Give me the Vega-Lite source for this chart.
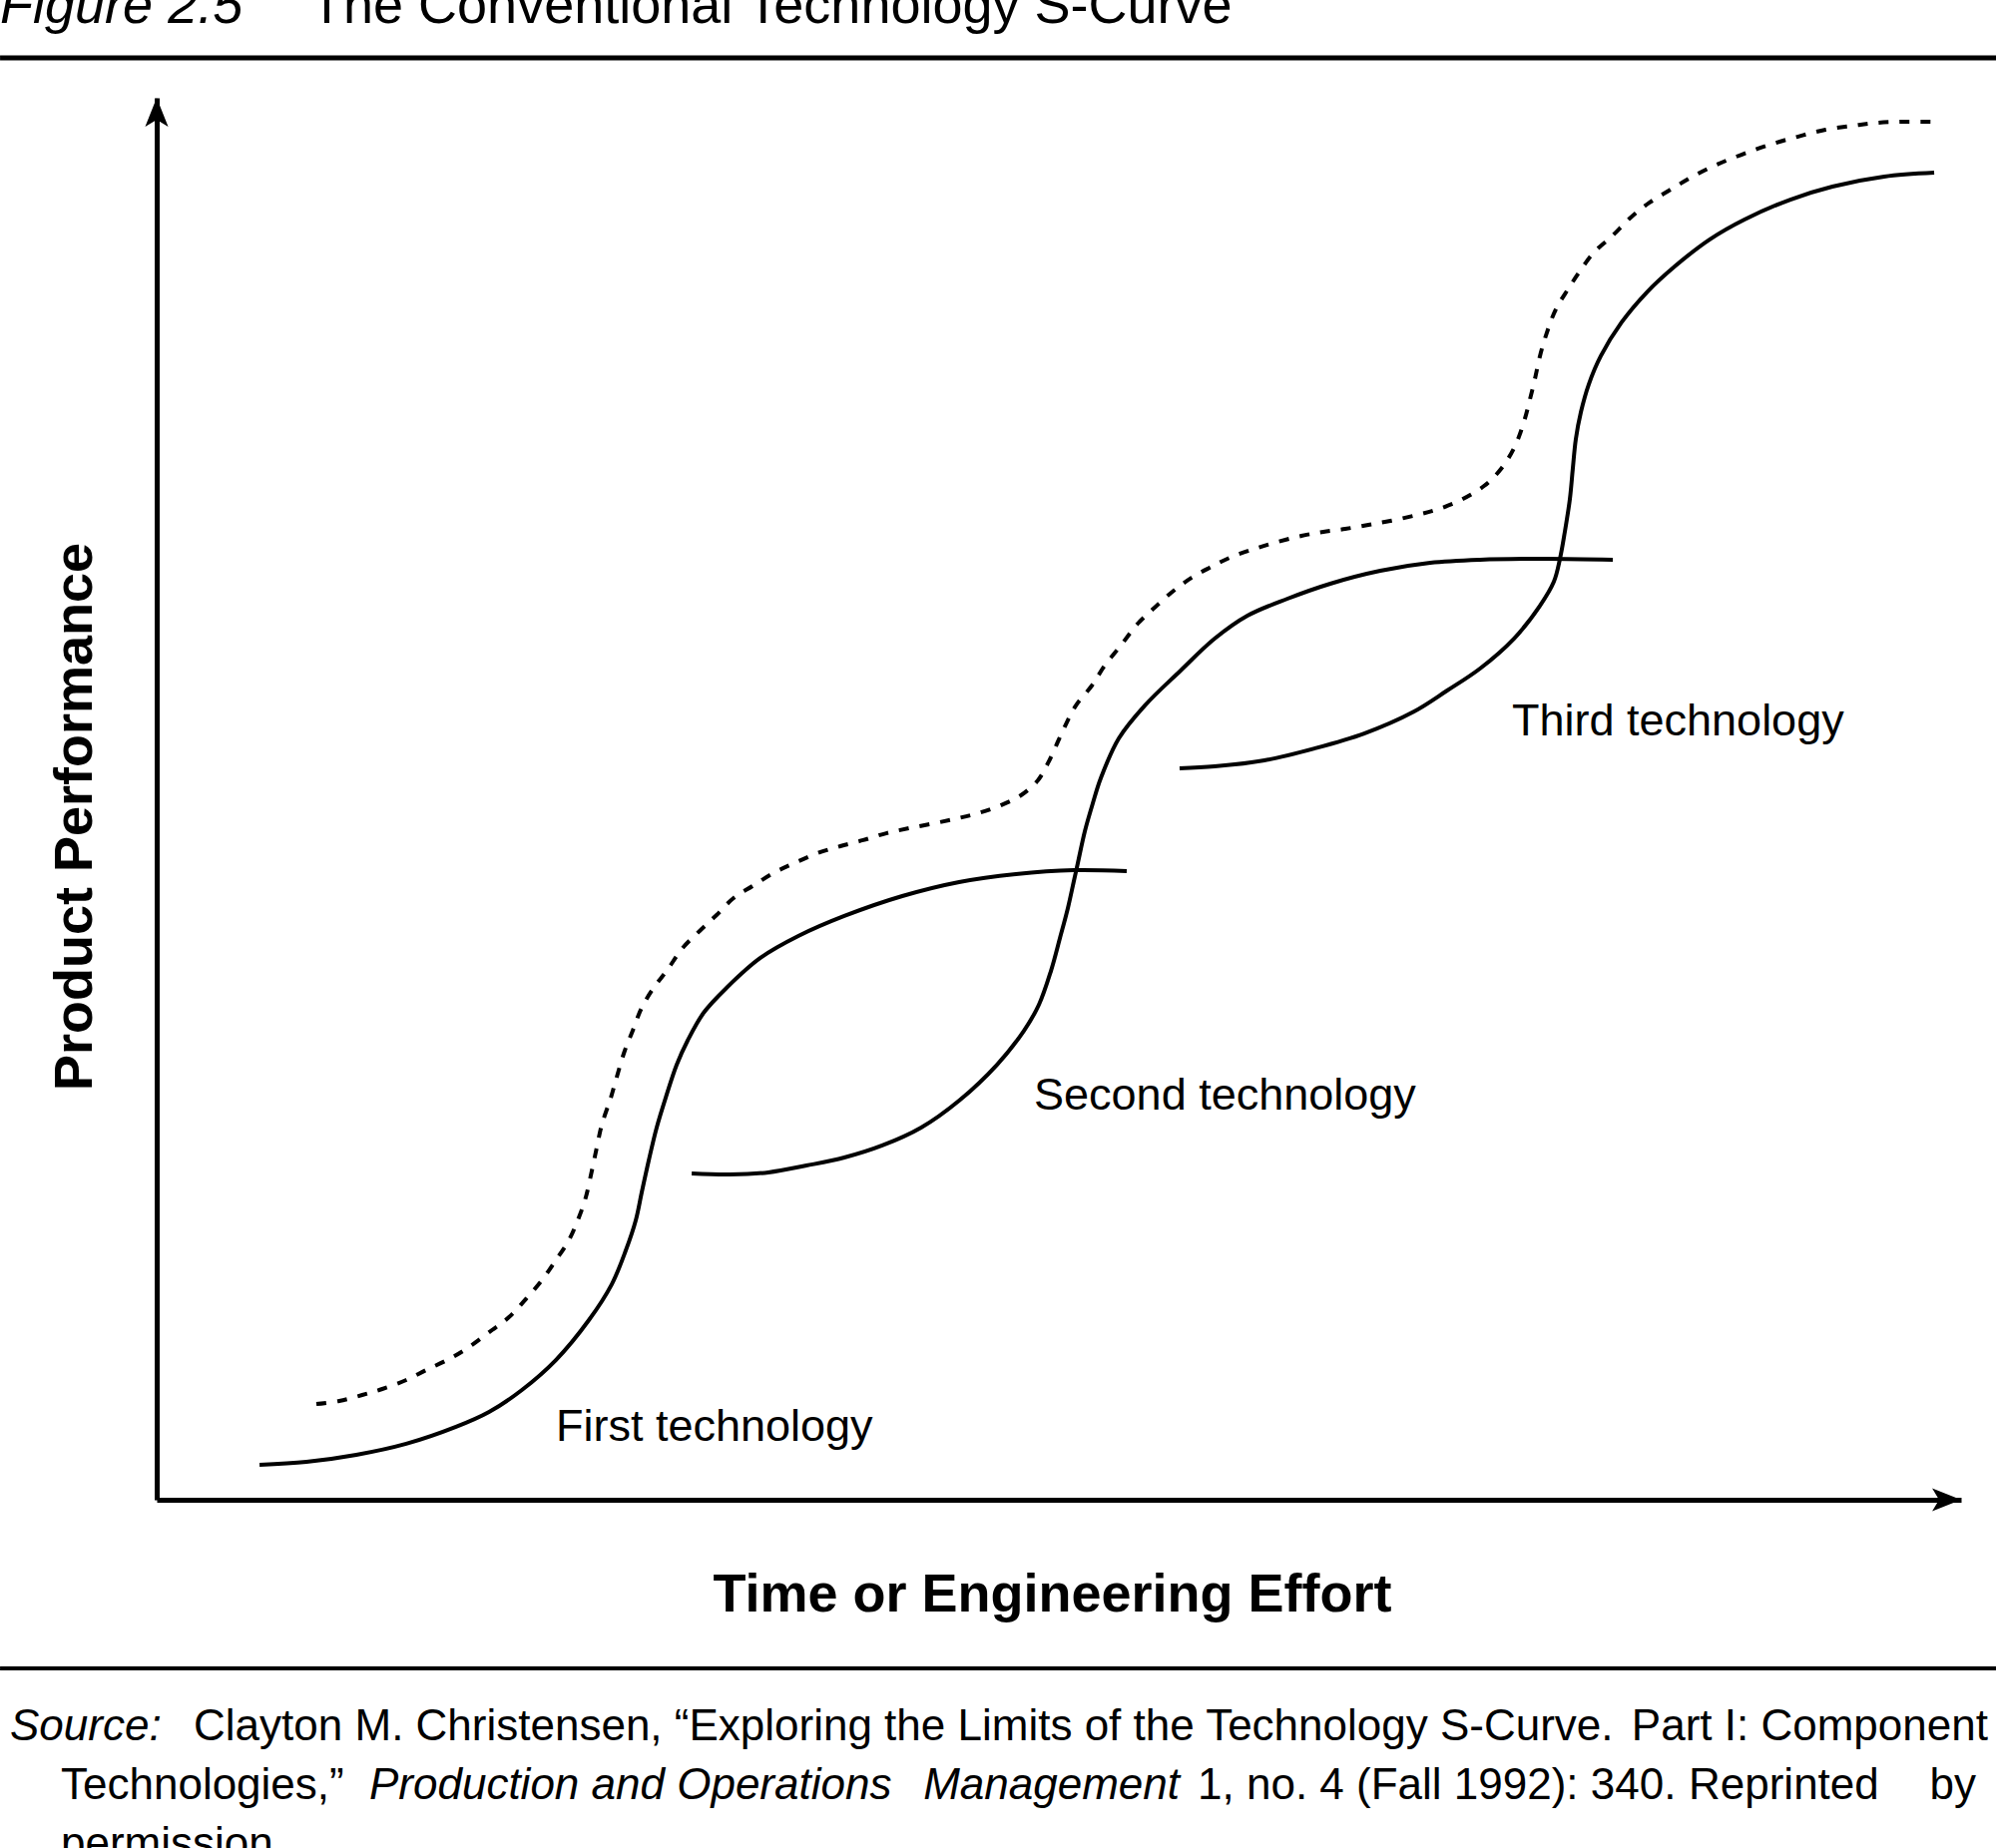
{
  "$schema": "https://vega.github.io/schema/vega-lite/v6.json",
  "width": 1808,
  "height": 1405,
  "autosize": {"type": "none"},
  "padding": {"left": 157, "top": 98, "right": 35, "bottom": 349},
  "background": "white",
  "config": {
    "view": {"stroke": null},
    "font": "Liberation Sans",
    "axis": {"labels": false, "ticks": false, "grid": false, "domain": true, "domainColor": "black", "domainWidth": 5,
      "titleFont": "Liberation Sans", "titleFontSize": 54, "titleFontWeight": "bold", "titleColor": "black"},
    "axisX": {"titlePadding": 68, "titleX": 897},
    "axisY": {"titlePadding": 55, "titleY": 720}
  },
  "datasets": {
    "curves": [
      {"series": "First technology", "x": 5.70, "y": 2.49},
      {"series": "First technology", "x": 8.30, "y": 2.70},
      {"series": "First technology", "x": 11.06, "y": 3.20},
      {"series": "First technology", "x": 13.83, "y": 3.99},
      {"series": "First technology", "x": 16.59, "y": 5.20},
      {"series": "First technology", "x": 18.42, "y": 6.26},
      {"series": "First technology", "x": 20.24, "y": 7.83},
      {"series": "First technology", "x": 22.12, "y": 9.96},
      {"series": "First technology", "x": 23.95, "y": 12.81},
      {"series": "First technology", "x": 25.22, "y": 15.37},
      {"series": "First technology", "x": 26.00, "y": 17.79},
      {"series": "First technology", "x": 26.55, "y": 19.93},
      {"series": "First technology", "x": 26.88, "y": 21.92},
      {"series": "First technology", "x": 27.27, "y": 24.20},
      {"series": "First technology", "x": 27.71, "y": 26.55},
      {"series": "First technology", "x": 28.21, "y": 28.68},
      {"series": "First technology", "x": 28.82, "y": 31.03},
      {"series": "First technology", "x": 29.42, "y": 32.74},
      {"series": "First technology", "x": 30.31, "y": 34.73},
      {"series": "First technology", "x": 31.58, "y": 36.51},
      {"series": "First technology", "x": 33.46, "y": 38.65},
      {"series": "First technology", "x": 35.56, "y": 40.21},
      {"series": "First technology", "x": 38.11, "y": 41.64},
      {"series": "First technology", "x": 41.32, "y": 43.06},
      {"series": "First technology", "x": 44.47, "y": 44.06},
      {"series": "First technology", "x": 47.62, "y": 44.63},
      {"series": "First technology", "x": 50.83, "y": 44.91},
      {"series": "First technology", "x": 53.76, "y": 44.84},
      {"series": "Second technology", "x": 29.65, "y": 23.27},
      {"series": "Second technology", "x": 31.75, "y": 23.20},
      {"series": "Second technology", "x": 33.90, "y": 23.35},
      {"series": "Second technology", "x": 36.01, "y": 23.84},
      {"series": "Second technology", "x": 38.11, "y": 24.41},
      {"series": "Second technology", "x": 40.21, "y": 25.27},
      {"series": "Second technology", "x": 42.37, "y": 26.55},
      {"series": "Second technology", "x": 44.47, "y": 28.47},
      {"series": "Second technology", "x": 46.57, "y": 31.03},
      {"series": "Second technology", "x": 48.06, "y": 33.45},
      {"series": "Second technology", "x": 48.89, "y": 35.30},
      {"series": "Second technology", "x": 49.56, "y": 37.72},
      {"series": "Second technology", "x": 50.06, "y": 40.07},
      {"series": "Second technology", "x": 50.50, "y": 42.21},
      {"series": "Second technology", "x": 50.83, "y": 44.13},
      {"series": "Second technology", "x": 51.05, "y": 45.41},
      {"series": "Second technology", "x": 51.44, "y": 47.69},
      {"series": "Second technology", "x": 51.88, "y": 49.68},
      {"series": "Second technology", "x": 52.32, "y": 51.46},
      {"series": "Second technology", "x": 53.32, "y": 54.31},
      {"series": "Second technology", "x": 54.76, "y": 56.65},
      {"series": "Second technology", "x": 56.75, "y": 59.15},
      {"series": "Second technology", "x": 58.63, "y": 61.42},
      {"series": "Second technology", "x": 60.45, "y": 63.06},
      {"series": "Second technology", "x": 62.67, "y": 64.27},
      {"series": "Second technology", "x": 65.04, "y": 65.34},
      {"series": "Second technology", "x": 67.81, "y": 66.26},
      {"series": "Second technology", "x": 70.58, "y": 66.83},
      {"series": "Second technology", "x": 73.34, "y": 67.05},
      {"series": "Second technology", "x": 77.05, "y": 67.12},
      {"series": "Second technology", "x": 80.70, "y": 67.05},
      {"series": "Third technology", "x": 56.69, "y": 52.17},
      {"series": "Third technology", "x": 58.63, "y": 52.31},
      {"series": "Third technology", "x": 61.39, "y": 52.74},
      {"series": "Third technology", "x": 64.16, "y": 53.59},
      {"series": "Third technology", "x": 66.92, "y": 54.66},
      {"series": "Third technology", "x": 69.69, "y": 56.23},
      {"series": "Third technology", "x": 71.52, "y": 57.72},
      {"series": "Third technology", "x": 73.34, "y": 59.29},
      {"series": "Third technology", "x": 75.22, "y": 61.42},
      {"series": "Third technology", "x": 76.66, "y": 63.77},
      {"series": "Third technology", "x": 77.43, "y": 65.48},
      {"series": "Third technology", "x": 77.77, "y": 67.12},
      {"series": "Third technology", "x": 78.04, "y": 69.04},
      {"series": "Third technology", "x": 78.32, "y": 71.39},
      {"series": "Third technology", "x": 78.48, "y": 73.52},
      {"series": "Third technology", "x": 78.65, "y": 75.66},
      {"series": "Third technology", "x": 78.93, "y": 77.58},
      {"series": "Third technology", "x": 79.37, "y": 79.57},
      {"series": "Third technology", "x": 80.03, "y": 81.57},
      {"series": "Third technology", "x": 81.19, "y": 83.99},
      {"series": "Third technology", "x": 82.58, "y": 86.12},
      {"series": "Third technology", "x": 84.13, "y": 87.97},
      {"series": "Third technology", "x": 86.06, "y": 89.89},
      {"series": "Third technology", "x": 88.00, "y": 91.32},
      {"series": "Third technology", "x": 90.54, "y": 92.74},
      {"series": "Third technology", "x": 92.87, "y": 93.67},
      {"series": "Third technology", "x": 95.74, "y": 94.38},
      {"series": "Third technology", "x": 98.51, "y": 94.66}
    ],
    "envelope": [
      {"x": 8.85, "y": 6.83}, {"x": 10.12, "y": 7.05}, {"x": 11.39, "y": 7.47}, {"x": 12.50, "y": 7.90},
      {"x": 13.83, "y": 8.54}, {"x": 14.93, "y": 9.25}, {"x": 16.21, "y": 10.04}, {"x": 17.31, "y": 10.89},
      {"x": 18.58, "y": 12.10}, {"x": 19.52, "y": 13.02}, {"x": 20.46, "y": 14.31}, {"x": 21.35, "y": 15.66},
      {"x": 22.12, "y": 17.08}, {"x": 22.84, "y": 18.51}, {"x": 23.40, "y": 20.14}, {"x": 23.78, "y": 21.57},
      {"x": 24.12, "y": 23.49}, {"x": 24.39, "y": 25.12}, {"x": 24.67, "y": 26.76}, {"x": 25.17, "y": 28.68},
      {"x": 25.44, "y": 29.89}, {"x": 25.94, "y": 32.03}, {"x": 26.38, "y": 33.45}, {"x": 26.88, "y": 35.09},
      {"x": 27.54, "y": 36.51}, {"x": 28.26, "y": 37.72}, {"x": 29.15, "y": 39.36}, {"x": 30.09, "y": 40.57},
      {"x": 31.03, "y": 41.71}, {"x": 31.97, "y": 42.92}, {"x": 33.02, "y": 43.77}, {"x": 34.18, "y": 44.70},
      {"x": 35.34, "y": 45.41}, {"x": 36.62, "y": 46.12}, {"x": 37.89, "y": 46.62}, {"x": 39.16, "y": 47.05},
      {"x": 40.43, "y": 47.54}, {"x": 41.70, "y": 47.90}, {"x": 43.14, "y": 48.26}, {"x": 44.41, "y": 48.61},
      {"x": 45.52, "y": 48.97}, {"x": 46.79, "y": 49.54}, {"x": 47.90, "y": 50.25}, {"x": 48.84, "y": 51.32},
      {"x": 49.39, "y": 52.53}, {"x": 49.83, "y": 53.74}, {"x": 50.33, "y": 55.16}, {"x": 50.94, "y": 56.65},
      {"x": 51.83, "y": 58.08}, {"x": 52.54, "y": 59.50}, {"x": 53.43, "y": 60.93}, {"x": 54.37, "y": 62.49},
      {"x": 55.36, "y": 63.70}, {"x": 56.36, "y": 64.84}, {"x": 57.36, "y": 65.77}, {"x": 58.35, "y": 66.48},
      {"x": 59.46, "y": 67.19}, {"x": 60.68, "y": 67.76}, {"x": 61.95, "y": 68.26}, {"x": 63.44, "y": 68.75},
      {"x": 64.66, "y": 69.04}, {"x": 65.87, "y": 69.25}, {"x": 67.15, "y": 69.54}, {"x": 68.36, "y": 69.82},
      {"x": 69.86, "y": 70.25}, {"x": 71.07, "y": 70.68}, {"x": 72.29, "y": 71.32}, {"x": 73.56, "y": 72.31},
      {"x": 74.50, "y": 73.52}, {"x": 75.28, "y": 75.16}, {"x": 75.77, "y": 76.87}, {"x": 76.11, "y": 78.51},
      {"x": 76.38, "y": 79.93}, {"x": 76.66, "y": 81.57}, {"x": 77.05, "y": 83.27}, {"x": 77.54, "y": 84.91},
      {"x": 78.21, "y": 86.33}, {"x": 78.87, "y": 87.62}, {"x": 79.65, "y": 88.97}, {"x": 80.64, "y": 90.11},
      {"x": 81.69, "y": 91.46}, {"x": 82.74, "y": 92.53}, {"x": 83.90, "y": 93.45}, {"x": 85.12, "y": 94.38},
      {"x": 86.45, "y": 95.23}, {"x": 87.83, "y": 95.94}, {"x": 89.38, "y": 96.65}, {"x": 90.93, "y": 97.22},
      {"x": 92.48, "y": 97.72}, {"x": 94.03, "y": 98.01}, {"x": 95.35, "y": 98.22}, {"x": 96.73, "y": 98.29},
      {"x": 98.51, "y": 98.29}
    ],
    "arrows": [
      {"x": 0, "y": 100, "angle": 0},
      {"x": 100, "y": 0, "angle": 90}
    ],
    "labels": [
      {"x": 22.12, "y": 4.20, "text": "First technology"},
      {"x": 48.62, "y": 27.83, "text": "Second technology"},
      {"x": 75.11, "y": 54.52, "text": "Third technology"}
    ],
    "header_italic": [{"x": -8.68, "y": 105.34, "text": "Figure 2.5"}],
    "header": [{"x": 8.52, "y": 105.34, "text": "The Conventional Technology S-Curve"}],
    "rules": [{"y": 102.85, "w": 5}, {"y": -12.03, "w": 4}],
    "source_italic": [
      {"x": -8.13, "y": -17.15, "text": "Source:"},
      {"x": 11.78, "y": -21.35, "text": "Production and Operations"}
    ],
    "source_italic_right": [
      {"x": 56.69, "y": -21.35, "text": "Management"}
    ],
    "source_left": [
      {"x": 2.05, "y": -17.15, "text": "Clayton M. Christensen, “Exploring the Limits of the Technology S-Curve."},
      {"x": -5.31, "y": -21.35, "text": "Technologies,”"},
      {"x": 57.69, "y": -21.35, "text": "1, no. 4 (Fall 1992): 340."},
      {"x": 84.90, "y": -21.35, "text": "Reprinted"},
      {"x": -5.31, "y": -25.55, "text": "permission."}
    ],
    "source_right": [
      {"x": 101.49, "y": -17.15, "text": "Part I: Component"},
      {"x": 100.83, "y": -21.35, "text": "by"}
    ]
  },
  "layer": [
    {
      "data": {"name": "curves"},
      "mark": {"type": "line", "color": "black", "strokeWidth": 4, "interpolate": "catmull-rom"},
      "encoding": {
        "x": {"field": "x", "type": "quantitative", "title": "Time or Engineering Effort", "scale": {"domain": [0, 100], "nice": false, "zero": false}},
        "y": {"field": "y", "type": "quantitative", "title": "Product Performance", "scale": {"domain": [0, 100], "nice": false, "zero": false}},
        "detail": {"field": "series", "type": "nominal"}
      }
    },
    {
      "data": {"name": "envelope"},
      "mark": {"type": "line", "color": "black", "strokeWidth": 4, "strokeDash": [10, 11], "interpolate": "catmull-rom"},
      "encoding": {
        "x": {"field": "x", "type": "quantitative", "title": "Time or Engineering Effort"},
        "y": {"field": "y", "type": "quantitative", "title": "Product Performance"}
      }
    },
    {
      "data": {"name": "arrows"},
      "mark": {"type": "point", "shape": "M0,0L0.77,1.93L0,1.47L-0.77,1.93Z", "filled": true, "color": "black", "opacity": 1, "size": 900, "strokeWidth": 0},
      "encoding": {
        "x": {"field": "x", "type": "quantitative", "title": "Time or Engineering Effort"},
        "y": {"field": "y", "type": "quantitative", "title": "Product Performance"},
        "angle": {"field": "angle", "type": "quantitative", "scale": null}
      }
    },
    {
      "data": {"name": "rules"},
      "mark": {"type": "rule", "color": "black"},
      "encoding": {
        "x": {"datum": -8.68, "type": "quantitative", "title": "Time or Engineering Effort"},
        "x2": {"datum": 101.94},
        "y": {"field": "y", "type": "quantitative", "title": "Product Performance"},
        "strokeWidth": {"field": "w", "type": "quantitative", "scale": null}
      }
    },
    {
      "data": {"name": "labels"},
      "mark": {"type": "text", "align": "left", "baseline": "alphabetic", "fontSize": 45, "font": "Liberation Sans", "color": "black"},
      "encoding": {
        "x": {"field": "x", "type": "quantitative", "title": "Time or Engineering Effort"},
        "y": {"field": "y", "type": "quantitative", "title": "Product Performance"},
        "text": {"field": "text"}
      }
    },
    {
      "data": {"name": "header_italic"},
      "mark": {"type": "text", "align": "left", "baseline": "alphabetic", "fontSize": 54, "fontStyle": "italic", "font": "Liberation Sans", "color": "black"},
      "encoding": {
        "x": {"field": "x", "type": "quantitative", "title": "Time or Engineering Effort"},
        "y": {"field": "y", "type": "quantitative", "title": "Product Performance"},
        "text": {"field": "text"}
      }
    },
    {
      "data": {"name": "header"},
      "mark": {"type": "text", "align": "left", "baseline": "alphabetic", "fontSize": 54, "font": "Liberation Sans", "color": "black"},
      "encoding": {
        "x": {"field": "x", "type": "quantitative", "title": "Time or Engineering Effort"},
        "y": {"field": "y", "type": "quantitative", "title": "Product Performance"},
        "text": {"field": "text"}
      }
    },
    {
      "data": {"name": "source_italic"},
      "mark": {"type": "text", "align": "left", "baseline": "alphabetic", "fontSize": 44, "fontStyle": "italic", "font": "Liberation Sans", "color": "black"},
      "encoding": {
        "x": {"field": "x", "type": "quantitative", "title": "Time or Engineering Effort"},
        "y": {"field": "y", "type": "quantitative", "title": "Product Performance"},
        "text": {"field": "text"}
      }
    },
    {
      "data": {"name": "source_italic_right"},
      "mark": {"type": "text", "align": "right", "baseline": "alphabetic", "fontSize": 44, "fontStyle": "italic", "font": "Liberation Sans", "color": "black"},
      "encoding": {
        "x": {"field": "x", "type": "quantitative", "title": "Time or Engineering Effort"},
        "y": {"field": "y", "type": "quantitative", "title": "Product Performance"},
        "text": {"field": "text"}
      }
    },
    {
      "data": {"name": "source_left"},
      "mark": {"type": "text", "align": "left", "baseline": "alphabetic", "fontSize": 44, "font": "Liberation Sans", "color": "black"},
      "encoding": {
        "x": {"field": "x", "type": "quantitative", "title": "Time or Engineering Effort"},
        "y": {"field": "y", "type": "quantitative", "title": "Product Performance"},
        "text": {"field": "text"}
      }
    },
    {
      "data": {"name": "source_right"},
      "mark": {"type": "text", "align": "right", "baseline": "alphabetic", "fontSize": 44, "font": "Liberation Sans", "color": "black"},
      "encoding": {
        "x": {"field": "x", "type": "quantitative", "title": "Time or Engineering Effort"},
        "y": {"field": "y", "type": "quantitative", "title": "Product Performance"},
        "text": {"field": "text"}
      }
    }
  ]
}
